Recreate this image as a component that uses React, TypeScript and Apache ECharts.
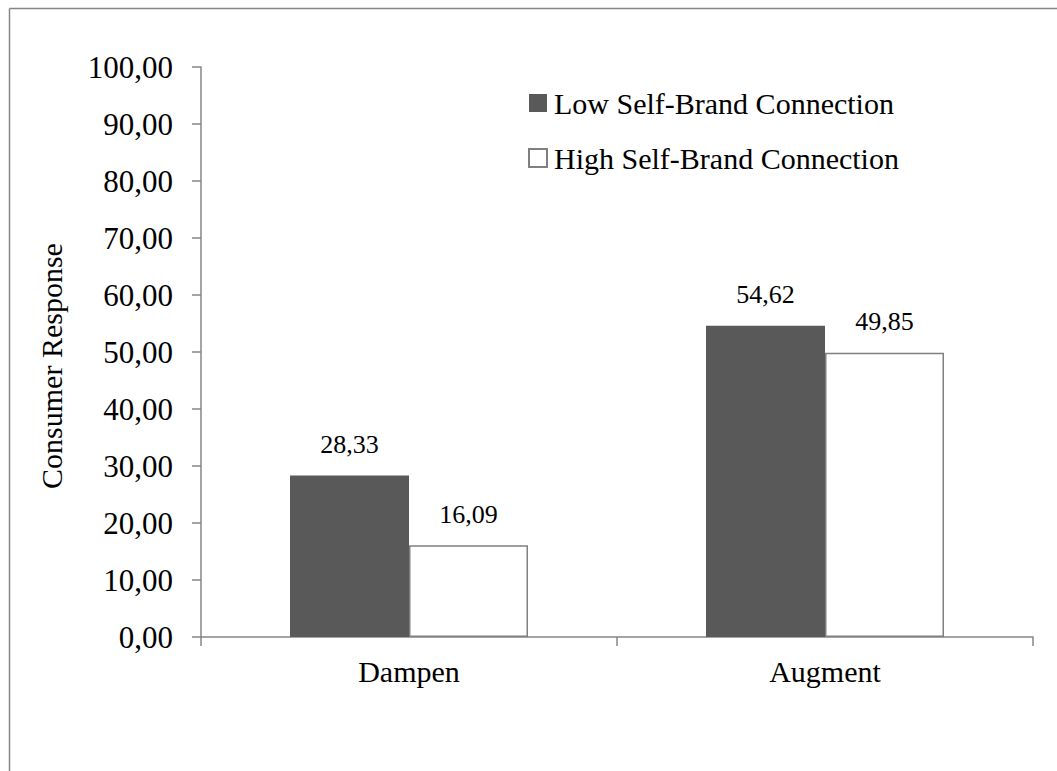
import React, { useEffect, useRef } from "react";
import * as echarts from "echarts";

const categories = ["Dampen", "Augment"];
const seriesNames = ["Low Self-Brand Connection", "High Self-Brand Connection"];
const lowValues = [28.33, 54.62];
const highValues = [16.09, 49.85];
const yTicks = { min: 0, max: 100, interval: 10 };
const yAxisTitle = "Consumer Response";

const FONT = "'Liberation Serif', 'Times New Roman', serif";
const fmt = (v: number) => v.toFixed(2).replace(".", ",");

export default function App() {
  const ref = useRef<HTMLDivElement>(null);
  useEffect(() => {
    if (!ref.current) return;
    const chart = echarts.init(ref.current, null, { renderer: "svg" });
    const labelCfg = {
      show: true,
      position: "top" as const,
      distance: 18,
      fontSize: 26,
      fontFamily: FONT,
      color: "#000",
      formatter: (p: any) => fmt(p.value),
    };
    chart.setOption({
      animation: false,
      backgroundColor: "#fff",
      textStyle: { fontFamily: FONT },
      graphic: [
        {
          type: "line",
          shape: { x1: 9.5, y1: 8.5, x2: 1057, y2: 8.5 },
          style: { stroke: "#868686", lineWidth: 1.5 },
        },
        {
          type: "line",
          shape: { x1: 9.5, y1: 8.5, x2: 9.5, y2: 771 },
          style: { stroke: "#868686", lineWidth: 1.5 },
        },
        {
          type: "text",
          x: 51,
          y: 366,
          rotation: Math.PI / 2,
          style: {
            text: yAxisTitle,
            fontSize: 30,
            fontFamily: FONT,
            fill: "#000",
            align: "center",
            verticalAlign: "middle",
          },
        },
      ],
      legend: {
        orient: "vertical",
        left: 528,
        top: 88,
        padding: 0,
        itemWidth: 18,
        itemHeight: 18,
        itemGap: 25,
        icon: "rect",
        textStyle: { fontSize: 30, fontFamily: FONT, color: "#000", lineHeight: 30, padding: [0, 0, 0, 2] },
        data: seriesNames,
      },
      grid: { left: 201, top: 67, right: 24, bottom: 134, containLabel: false },
      xAxis: {
        type: "category",
        data: categories,
        axisLine: { show: true, lineStyle: { color: "#868686", width: 1.5 } },
        axisTick: { show: true, length: 9, lineStyle: { color: "#868686", width: 1.5 } },
        axisLabel: { fontSize: 30, fontFamily: FONT, color: "#000", margin: 19 },
      },
      yAxis: {
        type: "value",
        min: yTicks.min,
        max: yTicks.max,
        interval: yTicks.interval,
        axisLine: { show: true, lineStyle: { color: "#868686", width: 1.5 } },
        axisTick: { show: true, length: 9, lineStyle: { color: "#868686", width: 1.5 } },
        splitLine: { show: false },
        axisLabel: {
          fontSize: 31,
          fontFamily: FONT,
          color: "#000",
          margin: 28,
          formatter: (v: number) => fmt(v),
        },
      },
      series: [
        {
          name: seriesNames[0],
          type: "bar",
          data: lowValues,
          barWidth: 119,
          barGap: "0%",
          itemStyle: { color: "#595959" },
          label: labelCfg,
        },
        {
          name: seriesNames[1],
          type: "bar",
          data: highValues,
          barWidth: 119,
          barGap: "0%",
          itemStyle: { color: "#ffffff", borderColor: "#808080", borderWidth: 1.5 },
          label: labelCfg,
        },
      ],
    });
    return () => chart.dispose();
  }, []);
  return (
    <div
      ref={ref}
      style={{ position: "absolute", left: 0, top: 0, width: 1057, height: 771 }}
    />
  );
}
